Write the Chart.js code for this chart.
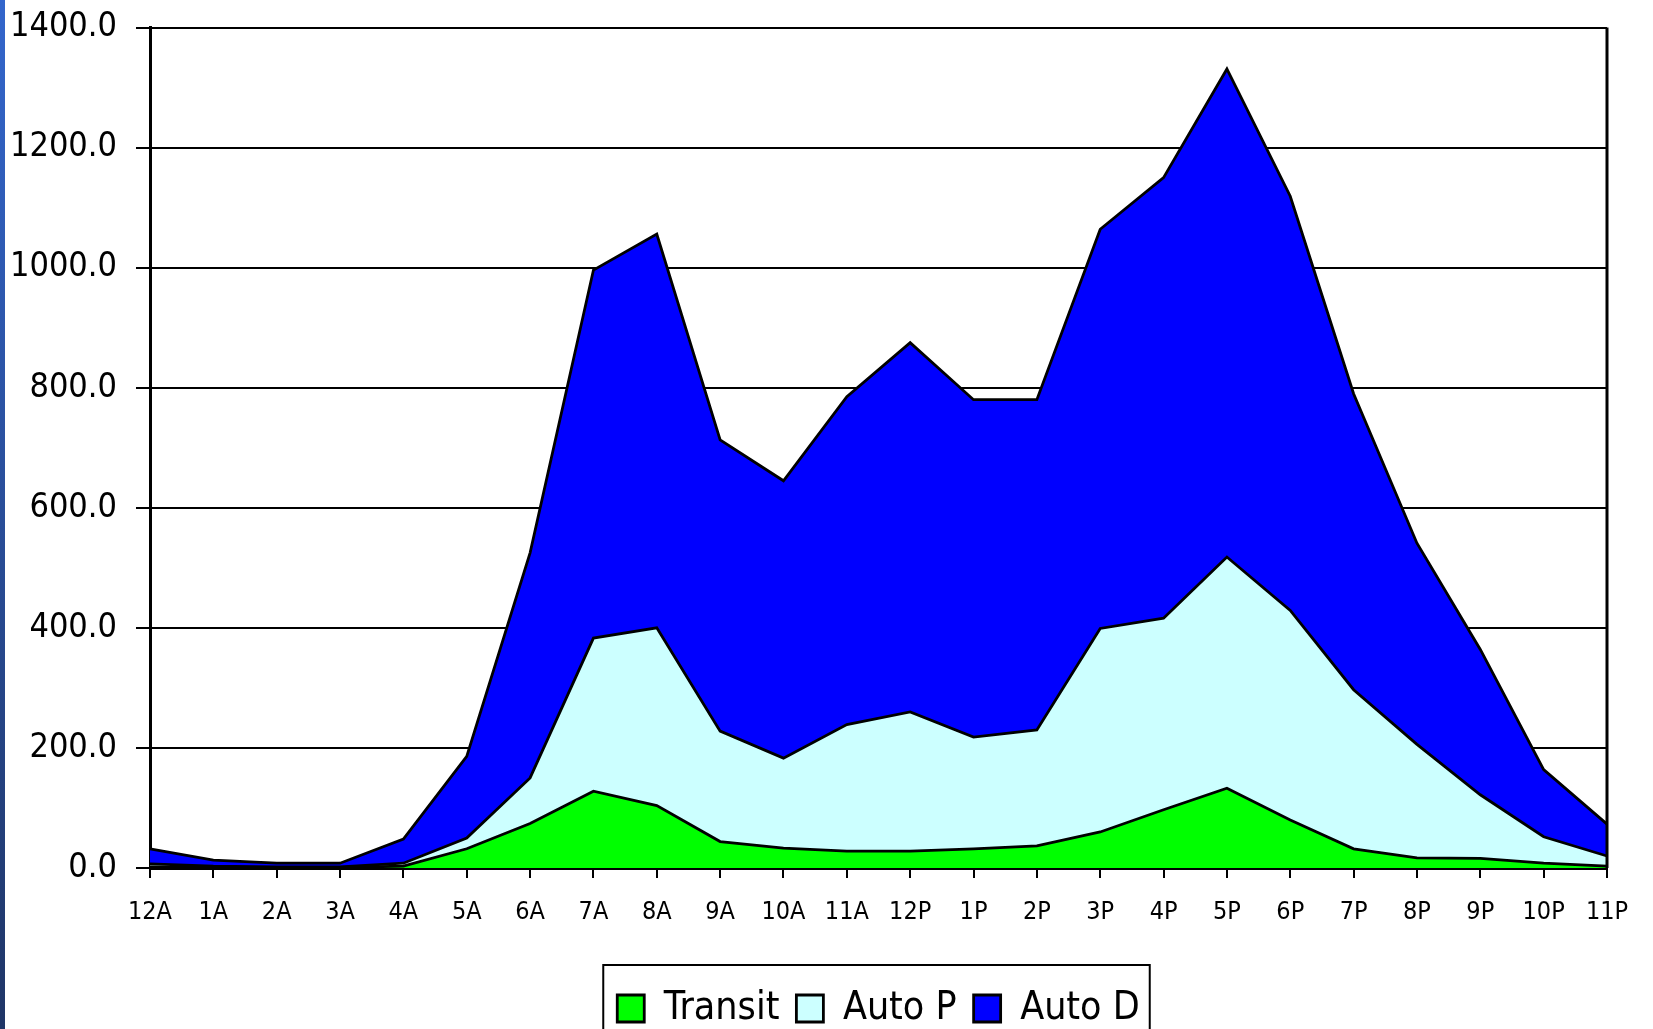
<!DOCTYPE html>
<html>
<head>
<meta charset="utf-8">
<title>Trips by hour</title>
<script src="https://cdn.jsdelivr.net/npm/chart.js@4.4.1/dist/chart.umd.min.js"></script>
<style>
  html, body { margin: 0; padding: 0; background: #fff; overflow: hidden; }
  #wrap { position: relative; width: 1653px; height: 1029px; }
  #stripe { position: absolute; left: 0; top: 0; width: 5px; height: 1029px;
            background: linear-gradient(#3366cc, #1f3566); z-index: 2; }
</style>
</head>
<body>
<div id="wrap">
  <div id="stripe"></div>
  <canvas id="tripsChart"></canvas>
</div>
<script>
// Hour labels along the bottom
const hours = ["12A", "1A", "2A", "3A", "4A", "5A", "6A", "7A", "8A", "9A", "10A", "11A",
               "12P", "1P", "2P", "3P", "4P", "5P", "6P", "7P", "8P", "9P", "10P", "11P"];

// Stacked series (each one sits on top of the previous)
const transit = [2, 1, 1, 1, 3, 32, 74, 128, 104, 44, 33, 28, 28, 32, 37, 60, 97, 133, 80, 32, 17, 16, 8, 3];
const autoP   = [5, 2, 1, 1, 5, 18, 76, 255, 296, 184, 150, 211, 232, 186, 193, 339, 319, 385, 349, 265, 189, 106, 44, 17];
const autoD   = [25, 10, 6, 6, 40, 136, 375, 613, 656, 485, 462, 546, 615, 562, 550, 665, 734, 813, 690, 493, 335, 242, 112, 53];

const yTicks = [0, 200, 400, 600, 800, 1000, 1200, 1400];

const fontName = "'Liberation Sans Narrow', 'Arial Narrow', 'DejaVu Sans Condensed', sans-serif";

// Frame around the legend items + right edge of the plot
const framePlugin = {
  id: "frames",
  afterDraw(chart) {
    const ctx = chart.ctx;
    const area = chart.chartArea;
    ctx.save();
    ctx.strokeStyle = "#000";
    ctx.lineWidth = 3;
    ctx.beginPath();
    ctx.moveTo(area.right, area.top);
    ctx.lineTo(area.right, area.bottom);
    ctx.stroke();

    const boxes = chart.legend && chart.legend.legendHitBoxes;
    if (boxes && boxes.length) {
      const left = Math.min(...boxes.map(b => b.left)) - 14;
      const right = Math.max(...boxes.map(b => b.left + b.width)) + 10;
      const top = 965;
      ctx.lineWidth = 2;
      ctx.strokeRect(left, top, right - left, chart.height - top + 10);
    }
    ctx.restore();
  }
};

function layer(label, data, color, fill) {
  return {
    label,
    data,
    backgroundColor: color,
    borderColor: "#000",
    borderWidth: 2.8,
    fill,
    pointRadius: 0,
    tension: 0
  };
}

const chart = new Chart(document.getElementById("tripsChart"), {
  type: "line",
  data: {
    labels: hours,
    datasets: [
      layer("Transit", transit, "#00ff00", "origin"),
      layer("Auto P", autoP, "#ccffff", "-1"),
      layer("Auto D", autoD, "#0000ff", "-1")
    ]
  },
  plugins: [framePlugin],
  options: {
    responsive: true,
    maintainAspectRatio: false,
    animation: false,
    layout: { padding: { left: 0, right: 46, top: 26, bottom: -9 } },
    plugins: {
      tooltip: { enabled: false },
      legend: {
        position: "bottom",
        fullSize: false,
        labels: {
          color: "#000",
          font: { family: fontName, size: 39 },
          boxWidth: 27,
          boxHeight: 27,
          padding: 17
        }
      }
    },
    scales: {
      x: {
        offset: false,
        grid: { drawOnChartArea: false, drawTicks: true, tickLength: 10, color: "#000", lineWidth: 2 },
        border: { display: true, color: "#000", width: 3 },
        ticks: {
          color: "#000",
          font: { family: fontName, size: 25 },
          padding: 19,
          maxRotation: 0,
          autoSkip: false
        },
        afterFit(axis) { axis.height = 104; }
      },
      y: {
        stacked: true,
        min: 0,
        max: 1400,
        afterBuildTicks(axis) { axis.ticks = yTicks.map(v => ({ value: v })); },
        grid: { color: "#000", lineWidth: 2, tickLength: 14, drawTicks: true },
        border: { display: true, color: "#000", width: 3 },
        ticks: {
          color: "#000",
          font: { family: fontName, size: 34, lineHeight: 0.5 },
          padding: 19,
          callback: v => Number(v).toFixed(1)
        },
        afterFit(axis) { axis.width = 150; }
      }
    }
  }
});
</script>
</body>
</html>
